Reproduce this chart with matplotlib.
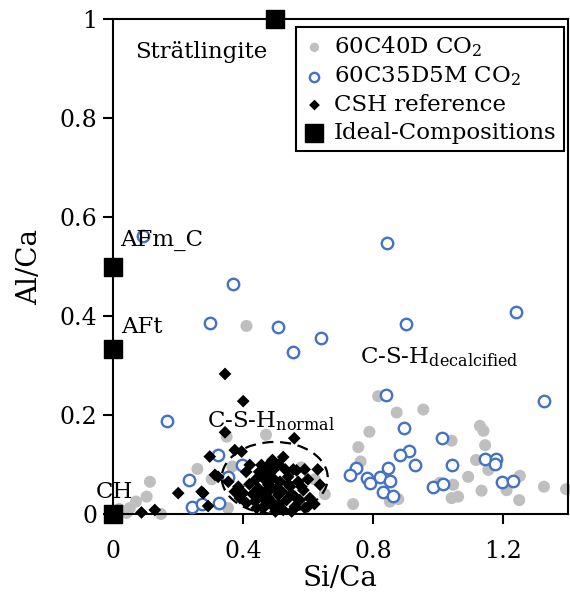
import numpy as np
import matplotlib
matplotlib.use("Agg")
import matplotlib.pyplot as plt
from matplotlib.patches import Ellipse

plt.rcParams['font.family'] = ['DejaVu Serif']
plt.rcParams['mathtext.fontset'] = 'dejavuserif'

# 60C40D CO2 (grey dots)
c40_x = [0.02, 0.042, 0.052, 0.071, 0.104, 0.114, 0.148, 0.26, 0.304, 0.35, 0.354, 0.367,
         0.411, 0.471, 0.58, 0.621, 0.652,
         0.816, 0.873, 0.955, 0.789, 1.042, 0.755, 0.883, 0.762, 0.878, 0.852, 0.739,
         1.006, 1.047, 1.042, 1.062, 1.129, 1.14, 1.145, 1.117, 1.155, 1.093, 1.252,
         1.211, 1.134, 1.25, 1.326, 1.394]
c40_y = [0.01, 0.002, 0.012, 0.025, 0.035, 0.065, 0.0, 0.091, 0.07, 0.156, 0.012, 0.096,
         0.38, 0.16, 0.094, 0.07, 0.04,
         0.238, 0.205, 0.211, 0.166, 0.148, 0.135, 0.117, 0.106, 0.03, 0.025, 0.02,
         0.063, 0.059, 0.032, 0.035, 0.178, 0.168, 0.139, 0.109, 0.089, 0.075, 0.077,
         0.048, 0.047, 0.028, 0.055, 0.05]

# 60C35D5M CO2 (open blue circles)
c35_x = [0.093, 0.37, 0.842, 0.3, 0.507, 0.903, 1.239, 0.64, 0.553, 0.165, 0.235, 0.242,
         0.273, 0.327, 0.324, 0.353, 0.396,
         0.841, 0.897, 1.011, 0.912, 0.883, 0.929, 1.042, 0.748, 0.729, 0.845, 0.781,
         0.791, 0.822, 0.852, 0.83, 0.861, 0.984, 1.014, 1.327, 1.145, 1.18, 1.175,
         1.196, 1.232]
c35_y = [0.562, 0.464, 0.547, 0.386, 0.378, 0.383, 0.409, 0.355, 0.328, 0.188, 0.069, 0.015,
         0.02, 0.023, 0.119, 0.074, 0.098,
         0.24, 0.173, 0.153, 0.128, 0.119, 0.099, 0.099, 0.092, 0.079, 0.092, 0.072,
         0.062, 0.075, 0.067, 0.044, 0.036, 0.054, 0.06, 0.228, 0.112, 0.112, 0.1,
         0.065, 0.067]

# CSH reference (black diamonds)
csh_x = [0.088, 0.129, 0.201, 0.273, 0.278, 0.293, 0.298, 0.314, 0.345, 0.345, 0.401,
         0.375, 0.396, 0.421, 0.491, 0.524, 0.555, 0.558, 0.637, 0.63,
         0.324, 0.355, 0.386, 0.375, 0.401, 0.391, 0.411,
         0.468, 0.483, 0.463, 0.478, 0.468, 0.447, 0.457, 0.478, 0.437, 0.442, 0.468,
         0.488, 0.493, 0.483, 0.498, 0.565, 0.539, 0.514, 0.545, 0.57, 0.586, 0.606,
         0.575, 0.534, 0.509, 0.483, 0.473, 0.56, 0.591, 0.524, 0.493, 0.463, 0.457,
         0.50, 0.52, 0.55, 0.53, 0.51, 0.44, 0.42, 0.43, 0.60, 0.59, 0.50, 0.55,
         0.60, 0.62, 0.51, 0.54, 0.56, 0.58, 0.45, 0.41]
csh_y = [0.003, 0.008, 0.042, 0.045, 0.042, 0.016, 0.116, 0.079, 0.165, 0.283, 0.228,
         0.129, 0.126, 0.099, 0.109, 0.115, 0.09, 0.153, 0.059, 0.09,
         0.075, 0.065, 0.055, 0.045, 0.042, 0.032, 0.022,
         0.092, 0.102, 0.072, 0.059, 0.045, 0.052, 0.035, 0.032, 0.025, 0.012, 0.018,
         0.025, 0.072, 0.082, 0.092, 0.088, 0.075, 0.065, 0.055, 0.065, 0.048, 0.032,
         0.028, 0.028, 0.038, 0.048, 0.028, 0.015, 0.012, 0.008, 0.015, 0.012, 0.099,
         0.05, 0.045, 0.04, 0.09, 0.10, 0.07, 0.06, 0.04, 0.07, 0.09, 0.005, 0.005,
         0.015, 0.02, 0.02, 0.06, 0.035, 0.055, 0.085, 0.085]

# ideal compositions
ideal_x = [0, 0, 0, 0.5]
ideal_y = [0, 0.333, 0.5, 1.0]

fig = plt.figure(figsize=(5.7, 5.99), dpi=100)
ax = fig.add_axes([0.198, 0.142, 0.7985, 0.826])

ax.scatter(c40_x, c40_y, s=75, color='#BFBFBF', edgecolors='none',
           label='60C40D CO$_2$', zorder=2, clip_on=False)
ax.scatter(c35_x, c35_y, s=68, facecolors='white', edgecolors='#4472C4',
           linewidths=1.7, label='60C35D5M CO$_2$', zorder=3, clip_on=False)
ax.scatter(csh_x, csh_y, s=42, marker='D', color='black', edgecolors='none',
           label='CSH reference', zorder=4, clip_on=False)
ax.scatter(ideal_x, ideal_y, s=170, marker='s', color='black',
           label='Ideal-Compositions', zorder=6, clip_on=False)

ell = Ellipse((0.498, 0.073), 0.326, 0.145, fill=False, edgecolor='black',
              linestyle=(0, (5, 3)), linewidth=1.6, zorder=5)
ax.add_patch(ell)

fs = 16.5
ax.text(0.068, 0.933, 'Strätlingite', fontsize=fs, va='center', ha='left')
ax.text(0.022, 0.554, 'AFm_C', fontsize=fs, va='center', ha='left')
ax.text(0.025, 0.378, 'AFt', fontsize=fs, va='center', ha='left')
ax.text(-0.052, 0.044, 'CH', fontsize=fs, va='center', ha='left')
ax.text(0.29, 0.175, r'C-S-H$_{\mathrm{normal}}$', fontsize=fs, va='baseline', ha='left')
ax.text(0.76, 0.305, r'C-S-H$_{\mathrm{decalcified}}$', fontsize=fs, va='baseline', ha='left')

ax.set_xlim(0, 1.4)
ax.set_ylim(0, 1)
ax.set_xticks([0, 0.4, 0.8, 1.2])
ax.set_xticklabels(['0', '0.4', '0.8', '1.2'])
ax.set_yticks([0, 0.2, 0.4, 0.6, 0.8, 1.0])
ax.set_yticklabels(['0', '0.2', '0.4', '0.6', '0.8', '1'])
ax.tick_params(direction='out', length=7, width=1.5, labelsize=17, pad=4)
ax.tick_params(axis='x', pad=12)
for sp in ax.spines.values():
    sp.set_linewidth(1.5)

ax.set_xlabel('Si/Ca', fontsize=20, labelpad=1)
ax.set_ylabel('Al/Ca', fontsize=20, labelpad=12)

leg = ax.legend(loc='upper right', bbox_to_anchor=(0.991, 0.984), borderaxespad=0,
                fontsize=fs, frameon=True, fancybox=False, framealpha=1,
                handletextpad=0.35, handlelength=1.0, labelspacing=0.25,
                borderpad=0.32, scatterpoints=1)
leg.get_frame().set_edgecolor('black')
leg.get_frame().set_linewidth(1.5)
leg.set_zorder(10)
for h, s in zip(leg.legend_handles, [45, 45, 30, 150]):
    h.set_sizes([s])

fig.savefig('out.png', dpi=100)
